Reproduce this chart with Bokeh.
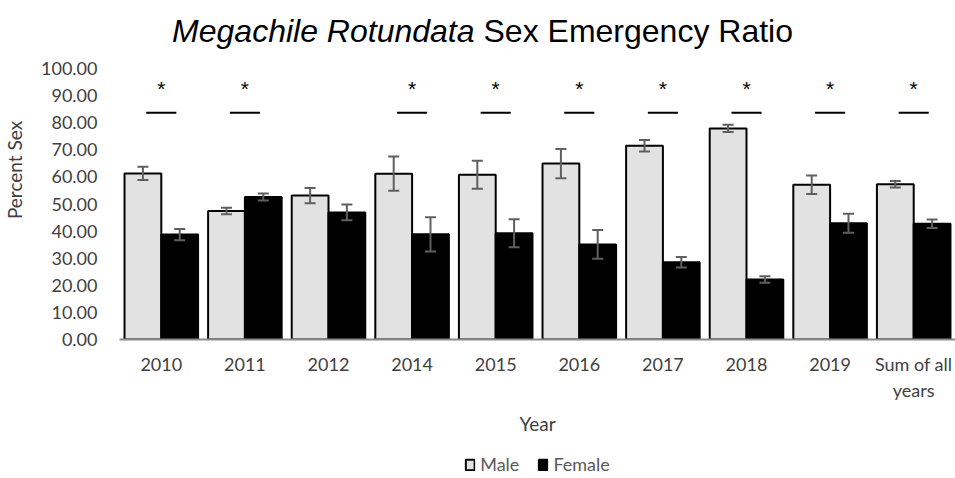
import numpy as np
from bokeh.plotting import figure
from bokeh.layouts import column
from bokeh.models import (ColumnDataSource, Range1d, FixedTicker, NumeralTickFormatter,
                          Whisker, TeeHead, Label, Legend, LegendItem)
from bokeh.transform import dodge
from bokeh.core.properties import value
from bokeh.embed import file_html
from bokeh.resources import INLINE

# Percent of emerging bees by sex, per year
years = ["2010", "2011", "2012", "2014", "2015", "2016", "2017", "2018", "2019", "Sum of all\nyears"]
male = [61.3, 47.4, 53.1, 61.2, 60.8, 64.9, 71.5, 77.9, 57.1, 57.3]
female = [38.7, 52.6, 46.9, 38.8, 39.2, 35.1, 28.5, 22.1, 42.9, 42.7]
male_err = [2.4, 1.2, 2.8, 6.3, 5.2, 5.4, 2.1, 1.3, 3.4, 1.2]
female_err = [2.1, 1.3, 2.9, 6.3, 5.2, 5.3, 1.9, 1.2, 3.5, 1.6]
significant = [True, True, False, True, True, True, True, True, True, True]
y_ticks = list(range(0, 101, 10))

src = ColumnDataSource(dict(
    year=years,
    male=male, female=female,
    male_hi=[m + e for m, e in zip(male, male_err)],
    male_lo=[m - e for m, e in zip(male, male_err)],
    female_hi=[f + e for f, e in zip(female, female_err)],
    female_lo=[f - e for f, e in zip(female, female_err)],
))

sig_years = [y for y, s in zip(years, significant) if s]
sig_src = ColumnDataSource(dict(year=sig_years,
                                star_y=[92.6] * len(sig_years),
                                bar_y=[83.7] * len(sig_years),
                                star=["*"] * len(sig_years)))

FONT = "Lato"
TEXT = "#404040"
MALE_FILL = "#e2e2e2"

# frame reaches the top of the canvas so the title can sit inside it;
# 100 % lies 271 px above the baseline
FRAME_H = 339
y_top = 100 * FRAME_H / 271

p = figure(x_range=years, y_range=Range1d(0, y_top), width=955, height=440,
           frame_width=836, frame_height=FRAME_H,
           min_border_left=117, min_border_right=2, min_border_top=0, min_border_bottom=0,
           output_backend="svg", toolbar_location=None, tools="")
p.outline_line_color = None
p.xgrid.visible = False
p.ygrid.visible = False
p.background_fill_color = "white"
p.border_fill_color = "white"

off = 0.22
bw = 0.44
p.vbar(x=dodge("year", -off, range=p.x_range), top="male", width=bw, source=src,
       fill_color=MALE_FILL, line_color="black", line_width=2)
p.vbar(x=dodge("year", off, range=p.x_range), top="female", width=bw, source=src,
       fill_color="black", line_color="black", line_width=2)

for key, o in (("male", -off), ("female", off)):
    w = Whisker(base=dodge("year", o, range=p.x_range), upper=key + "_hi", lower=key + "_lo",
                source=src, line_color="#5f5f5f", line_width=2, level="overlay",
                upper_head=TeeHead(size=11, line_color="#5f5f5f", line_width=2),
                lower_head=TeeHead(size=11, line_color="#5f5f5f", line_width=2))
    p.add_layout(w)

# significance markers
p.segment(x0=dodge("year", -0.18, range=p.x_range), x1=dodge("year", 0.18, range=p.x_range),
          y0="bar_y", y1="bar_y", source=sig_src, line_color="black", line_width=2)
p.text(x="year", y="star_y", text="star", source=sig_src, text_align="center",
       text_baseline="middle", text_font=value("Liberation Sans"), text_font_size="21px",
       text_color="black")

# axes
p.yaxis.ticker = FixedTicker(ticks=y_ticks)
p.yaxis.formatter = NumeralTickFormatter(format="0.00")
p.yaxis.axis_line_color = None
p.yaxis.major_tick_line_color = None
p.yaxis.minor_tick_line_color = None
p.yaxis.major_label_standoff = 16
p.yaxis.major_label_text_font = FONT
p.yaxis.major_label_text_font_size = "18px"
p.yaxis.major_label_text_color = TEXT
p.yaxis.axis_label = "Percent Sex"
p.yaxis.axis_label_text_font = FONT
p.yaxis.axis_label_text_font_style = "normal"
p.yaxis.axis_label_text_font_size = "19px"
p.yaxis.axis_label_text_color = TEXT
p.yaxis.axis_label_standoff = 12

p.xaxis.axis_line_color = "#8a8a8a"
p.xaxis.axis_line_width = 2
p.xaxis.major_tick_line_color = None
p.xaxis.minor_tick_line_color = None
p.xaxis.major_label_standoff = 7
p.xaxis.major_label_text_font = FONT
p.xaxis.major_label_text_font_size = "18px"
p.xaxis.major_label_text_color = TEXT
p.xaxis.axis_label = "Year"
p.xaxis.axis_label_text_font = FONT
p.xaxis.axis_label_text_font_style = "normal"
p.xaxis.axis_label_text_font_size = "19px"
p.xaxis.axis_label_text_color = TEXT
p.xaxis.axis_label_standoff = 8

# two-part title: italic species name followed by upright text
title_y = FRAME_H - 30
p.add_layout(Label(x=355, y=title_y, x_units="screen", y_units="screen",
                   text="Megachile Rotundata", text_align="right", text_baseline="middle",
                   text_font="Liberation Sans", text_font_style="italic",
                   text_font_size="32px", text_color="black"))
p.add_layout(Label(x=364, y=title_y, x_units="screen", y_units="screen",
                   text="Sex Emergency Ratio", text_align="left", text_baseline="middle",
                   text_font="Liberation Sans", text_font_size="32px", text_color="black"))

# legend strip under the chart; its key bars carry only styling, no drawable value
leg = figure(x_range=Range1d(0, 1), y_range=Range1d(0, 1), width=955, height=38,
             frame_width=836, frame_height=38,
             min_border_left=117, min_border_right=2, min_border_top=0, min_border_bottom=0,
             output_backend="svg", toolbar_location=None, tools="")
leg.axis.visible = False
leg.grid.visible = False
leg.outline_line_color = None
leg.border_fill_color = "white"
key_src = ColumnDataSource(dict(x=np.array([0.5]), top=np.array([np.nan])))
k_m = leg.vbar(x="x", top="top", width=0.1, source=key_src,
               fill_color=MALE_FILL, line_color="black", line_width=2)
k_f = leg.vbar(x="x", top="top", width=0.1, source=key_src,
               fill_color="black", line_color="black", line_width=2)
legend = Legend(items=[LegendItem(label="Male", renderers=[k_m]),
                       LegendItem(label="Female", renderers=[k_f])],
                orientation="horizontal", location="bottom_center",
                border_line_color=None, background_fill_alpha=0,
                label_text_font=FONT, label_text_font_size="18px", label_text_color="#595959",
                glyph_width=11, glyph_height=13, label_height=16, spacing=18, padding=0,
                margin=0, label_standoff=5)
leg.add_layout(legend)

open("out.html", "w").write(file_html(column(p, leg, spacing=0), INLINE))
